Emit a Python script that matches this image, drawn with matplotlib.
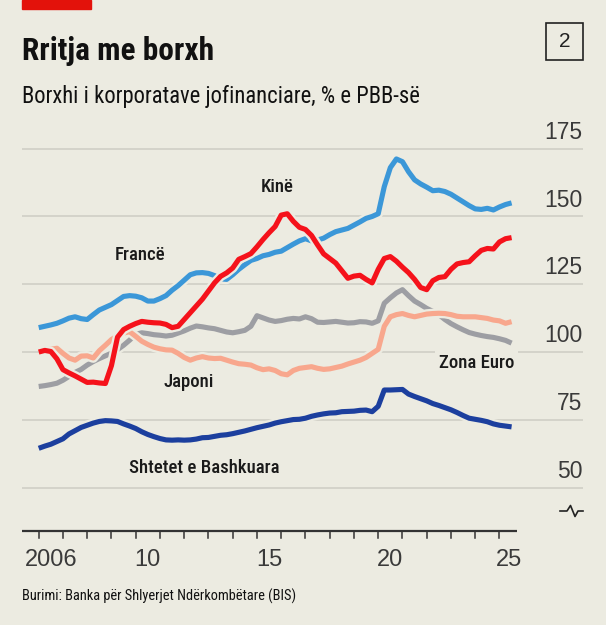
import numpy as np
import matplotlib
matplotlib.use("Agg")
import matplotlib.pyplot as plt
import matplotlib.patheffects as pe
from matplotlib.patches import Rectangle

# quarterly, 2006Q1 .. 2025Q3
years = np.arange(2006, 2025.51, 0.25)

france = [109.0, 109.5, 110.0, 110.6,
          111.5, 112.5, 113.0, 112.3,
          112.0, 113.8, 115.5, 116.5,
          117.5, 119.0, 120.5, 120.8,
          120.6, 120.0, 118.8, 118.8,
          119.7, 120.8, 122.8, 124.5,
          126.5, 128.5, 129.2, 129.3,
          129.0, 128.2, 127.0, 126.8,
          128.5, 130.5, 132.2, 133.8,
          134.5, 135.5, 136.0, 136.8,
          137.2, 138.5, 139.8, 141.0,
          141.8, 141.0, 141.3, 142.0,
          143.3, 144.4, 145.0, 145.6,
          146.8, 148.0, 149.3, 150.0,
          151.0, 161.0, 168.0, 171.2,
          170.2, 166.5, 163.5, 162.0,
          160.8, 159.5, 159.7, 159.2,
          158.2, 156.8, 155.4, 154.0,
          152.8, 152.6, 153.0, 152.4,
          153.5, 154.4, 155.0]

china = [100.0, 100.6, 100.2, 97.5,
         93.5, 92.3, 91.2, 90.0,
         88.8, 88.9, 88.6, 88.4,
         95.0, 105.5, 108.3, 109.5,
         110.5, 111.3, 111.0, 110.8,
         110.7, 110.2, 109.0, 109.5,
         112.0, 114.5, 117.0, 119.5,
         122.5, 125.5, 127.9, 129.2,
         131.0, 134.2, 135.2, 136.3,
         138.8, 141.5, 144.0, 146.3,
         150.5, 151.0, 148.2, 146.0,
         145.2, 143.0, 139.5, 136.2,
         134.5, 132.8, 130.0, 127.2,
         128.0, 128.3, 126.8, 125.5,
         130.5, 134.5, 135.2, 133.5,
         131.3, 129.3, 126.8, 123.8,
         123.0, 126.3, 127.5, 127.8,
         130.5, 132.5, 133.0, 133.3,
         135.5, 137.5, 138.2, 138.0,
         140.6, 141.8, 142.2]

euro = [87.3, 87.6, 88.0, 88.5,
        89.6, 91.0, 92.5, 93.6,
        95.2, 96.5, 97.6, 98.6,
        99.6, 100.9, 102.5, 104.4,
        106.5, 107.1, 106.8, 106.4,
        106.2, 105.9, 106.2, 107.0,
        107.8, 108.8, 109.6, 109.3,
        108.9, 108.6, 108.0, 107.4,
        107.1, 107.5, 108.0, 109.5,
        113.4, 112.6, 111.8, 111.3,
        111.6, 112.1, 112.4, 112.2,
        113.0, 112.3, 111.0, 110.9,
        111.1, 111.3, 111.0, 110.7,
        110.8, 111.2, 111.1, 110.6,
        111.5, 118.0, 120.0, 121.8,
        123.0, 120.8, 118.8, 117.5,
        116.1, 115.0, 113.8, 112.0,
        110.5, 109.3, 108.2, 107.2,
        106.6, 106.1, 105.7, 105.4,
        104.9, 104.3, 103.3]

japan = [100.5, 100.8, 101.0, 101.4,
         99.5, 97.8, 97.0, 98.5,
         98.6, 97.8, 100.5, 102.5,
         104.6, 106.0, 107.0, 107.5,
         105.8, 104.0, 102.8, 101.8,
         101.2, 100.8, 100.7, 99.5,
         98.0, 97.0, 97.8, 98.3,
         97.8, 97.6, 97.7, 97.0,
         96.3, 95.7, 95.5, 95.2,
         94.2, 93.5, 93.8, 93.2,
         92.0, 91.6, 93.2, 94.0,
         94.3, 94.6, 94.0, 93.6,
         93.8, 94.3, 94.8, 95.6,
         96.3, 97.0, 98.0, 99.5,
         101.0, 109.5, 113.0, 113.8,
         114.2, 113.5, 113.0, 113.5,
         114.0, 114.2, 114.3, 114.2,
         113.8, 113.2, 113.0, 113.0,
         113.0, 112.7, 112.4, 111.8,
         111.5, 110.6, 111.2]

usa = [64.5, 65.3, 66.0, 67.0,
       68.0, 69.8, 71.0, 72.2,
       73.0, 73.8, 74.4, 74.7,
       74.6, 74.4, 73.5, 72.7,
       71.8, 70.6, 69.6, 68.8,
       68.1, 67.6, 67.5, 67.6,
       67.5, 67.6, 67.9, 68.4,
       68.5, 68.9, 69.3, 69.5,
       69.9, 70.4, 70.9, 71.5,
       72.1, 72.6, 73.1, 73.8,
       74.3, 74.7, 75.1, 75.2,
       75.6, 76.3, 76.8, 77.2,
       77.5, 77.6, 78.0, 78.1,
       78.2, 78.5, 78.6, 78.0,
       80.0, 86.0, 86.0, 86.1,
       86.2, 84.5, 83.6, 82.8,
       82.0, 81.0, 80.3, 79.5,
       78.7, 77.7, 76.6, 75.6,
       75.2, 74.8, 74.3, 73.5,
       73.0, 72.7, 72.4]

y_ticks = [50, 75, 100, 125, 150, 175]
x_tick_years = list(range(2006, 2026))
x_label_pos = [2006.5, 2010.5, 2015.5, 2020.5, 2025.4]
x_labels = ["2006", "10", "15", "20", "25"]

BG = "#ecebe1"
COND = ["Roboto Condensed", "DejaVu Sans"]
SANS = ["Liberation Sans", "DejaVu Sans"]

fig = plt.figure(figsize=(6.06, 6.25), dpi=100, facecolor=BG)
ax = fig.add_axes([22 / 606, 1 - 531 / 625, 561 / 606, 391 / 625])
ax.set_facecolor(BG)
ax.set_xlim(2005.311, 2028.445)
ax.set_ylim(34.0, 178.2)
for s in ax.spines.values():
    s.set_visible(False)
ax.set_xticks([])
ax.set_yticks([])

# gridlines + y labels
for v in y_ticks:
    ax.axhline(v, color="#cdccc4", lw=1.1, zorder=1)
    ax.annotate(str(v), xy=(0.9985, v), xycoords=("axes fraction", "data"),
                xytext=(0, 3.5), textcoords="offset points",
                ha="right", va="bottom", fontsize=16.5, color="#3a3a3a",
                family=SANS)

# x axis
ax.plot([2005.311, 2025.73], [34.0, 34.0], color="#333333", lw=1.6,
        clip_on=False, zorder=7, solid_capstyle="butt")
for yr in x_tick_years:
    ax.plot([yr, yr], [34.0, 34.0 - 2.4], color="#333333", lw=1.1,
            clip_on=False, zorder=7)
for pos, lab in zip(x_label_pos, x_labels):
    ax.annotate(lab, xy=(pos, 34.0), xycoords="data", xytext=(0, -13),
                textcoords="offset points", ha="center", va="top",
                fontsize=17, color="#3a3a3a", family=SANS)

# axis break symbol
bx = np.array([560, 567, 570.5, 575, 578, 583])
by = np.array([511, 511, 505.5, 516.5, 511, 511])
ax.plot((bx - 22) / 561, (531 - by) / 391, transform=ax.transAxes,
        color="#222222", lw=1.2, clip_on=False)

halo = lambda: [pe.Stroke(linewidth=7, foreground=BG), pe.Normal()]
series = [
    (euro, "#9d9ea3", 2),
    (japan, "#f8a78d", 3),
    (france, "#3b97d8", 4),
    (china, "#f5121b", 5),
    (usa, "#1c3f9e", 6),
]
for vals, col, z in series:
    ax.plot(years, vals, color=col, lw=3.7, zorder=z,
            solid_capstyle="butt", path_effects=halo())

lab_kw = dict(fontsize=13.5, color="#1a1a1a", family=COND, ha="center",
              va="center", zorder=8, fontweight="medium")
ax.text(2015.85, 160.8, "Kinë", **lab_kw)
ax.text(2010.16, 135.8, "Francë", **lab_kw)
ax.text(2012.2, 88.9, "Japoni", **lab_kw)
ax.text(2012.82, 57.2, "Shtetet e Bashkuara", **lab_kw)
ax.text(2025.6, 95.9, "Zona Euro", fontsize=13.5, color="#1a1a1a",
        family=COND, fontweight="medium", ha="right", va="center", zorder=8,
        bbox=dict(facecolor=BG, edgecolor="none", pad=3))

# header
fig.patches.append(Rectangle((22 / 606, 1 - 9 / 625), 69 / 606, 9 / 625,
                             transform=fig.transFigure, color="#e3120b"))
fig.text(22 / 606, 1 - 60 / 625, "Rritja me borxh", fontsize=22.6,
         fontweight="bold", color="#111111", family=COND, va="baseline")
fig.text(22 / 606, 1 - 103 / 625, "Borxhi i korporatave jofinanciare, % e PBB-së",
         fontsize=16.3, color="#111111", family=COND, va="baseline")
fig.patches.append(Rectangle((546 / 606, 1 - 60 / 625), 37 / 606, 37 / 625,
                             transform=fig.transFigure, facecolor="none",
                             edgecolor="#222222", lw=1.2))
fig.text(564.5 / 606, 1 - 41.5 / 625, "2", fontsize=15, color="#222222",
         family=SANS, ha="center", va="center")
fig.text(22 / 606, 1 - 601 / 625,
         "Burimi: Banka për Shlyerjet Ndërkombëtare (BIS)",
         fontsize=10.4, color="#111111", family=COND, va="baseline")

fig.savefig("out.png", dpi=100, facecolor=BG)
plt.close(fig)
